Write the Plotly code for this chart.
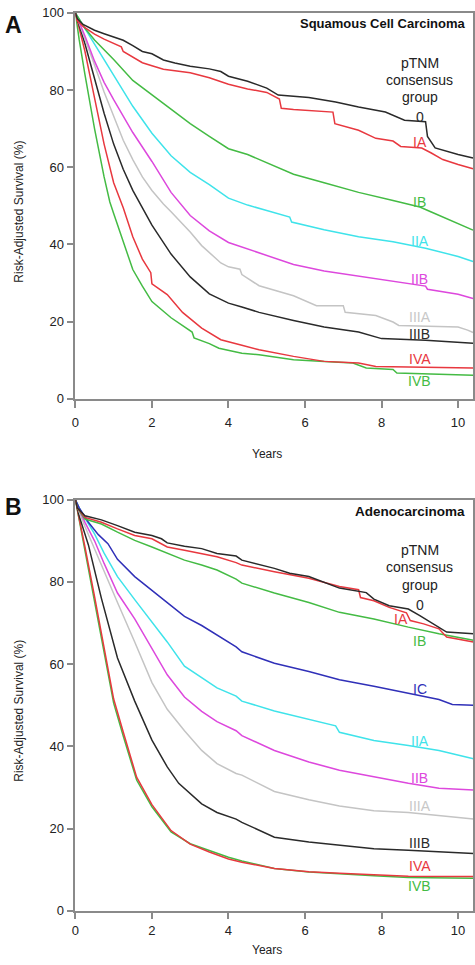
import plotly.graph_objects as go

# ---------------- Panel A: Squamous Cell Carcinoma ----------------
a_0_t = [0, 0.05, 0.2, 0.5, 0.75, 1.0, 1.25, 1.5, 1.75, 2.0, 2.3, 2.6, 3.0, 3.5, 3.8, 4.0, 4.5, 5.0, 5.3, 6.1, 6.8, 7.4, 8.1, 8.6, 9.15, 9.2, 9.4, 10.0, 10.39]
a_0_s = [100, 98.5, 97, 95.5, 94.6, 93.8, 92.9, 91.5, 90, 89.4, 87.8, 87, 86.2, 85.5, 84.8, 83.6, 82.3, 80.5, 78.7, 78.1, 76.9, 75.6, 74.3, 72.2, 71.8, 68, 65, 63.3, 62.4]

a_ia_t = [0, 0.05, 0.2, 0.5, 0.75, 1.0, 1.2, 1.25, 1.5, 1.75, 2.0, 2.3, 2.6, 3.0, 3.5, 4.0, 4.5, 5.0, 5.33, 5.38, 5.7, 6.73, 6.78, 7.4, 7.85, 8.3, 8.5, 9.05, 9.3, 9.6, 10.0, 10.39]
a_ia_s = [100, 98, 96.5, 94.5, 93.2, 92, 91.2, 90, 88.6, 87.1, 86.3, 85.4, 85, 84.5, 83.2, 81.5, 80.3, 79.4, 77.7, 75.3, 75, 74.3, 71.3, 69.6, 67.5, 66.8, 65.4, 65, 63.7, 62, 60.7, 59.6]

a_ib_t = [0, 0.25, 0.5, 1.0, 1.5, 2.0, 2.5, 3.0, 3.5, 4.0, 4.5, 5.0, 5.7, 6.5, 7.4, 8.3, 9.0, 9.3, 10.0, 10.39]
a_ib_s = [100, 96, 93, 87.9, 82.5, 78.8, 74.9, 71.3, 68, 64.8, 63.3, 61.2, 58.2, 56, 53.5, 51.4, 49.7, 48.4, 45.4, 43.7]

a_iia_t = [0, 0.25, 0.5, 1.0, 1.5, 2.0, 2.5, 3.0, 3.5, 4.0, 4.5, 5.0, 5.6, 5.65, 6.5, 7.4, 8.3, 9.15, 10.0, 10.39]
a_iia_s = [100, 96, 92.1, 84, 75.8, 68.8, 63, 58.7, 55.5, 52, 50.2, 48.8, 47.1, 45.8, 43.8, 42, 40.7, 39, 36.9, 35.6]

a_iib_t = [0, 0.25, 0.5, 0.75, 1.0, 1.5, 2.0, 2.5, 3.0, 3.5, 4.0, 4.5, 5.0, 5.7, 6.5, 7.4, 8.3, 9.15, 9.2, 10.0, 10.39]
a_iib_s = [100, 94, 87.5, 82, 77.5, 69, 61.5, 53.5, 47.5, 43.5, 40.5, 38.8, 37.2, 34.8, 33.1, 31.8, 30.5, 29.2, 28.4, 27.1, 26]

a_iiia_t = [0, 0.25, 0.5, 0.75, 1.0, 1.25, 1.5, 1.75, 2.0, 2.3, 2.5, 2.8, 3.0, 3.3, 3.5, 3.8, 4.0, 4.3, 4.35, 4.8, 5.7, 6.3, 7.0, 7.05, 7.85, 8.3, 8.45, 10.0, 10.25, 10.39]
a_iiia_s = [100, 93.5, 86.5, 79.5, 73, 67, 62, 57.5, 54, 50.5, 48.5, 45.4, 43.2, 39.7, 37.8, 35.2, 34.2, 33.6, 32.2, 29.3, 26.7, 24.1, 24.1, 22.4, 21.6, 19.9, 19, 18.6, 17.8, 17.2]

a_iiib_t = [0, 0.25, 0.5, 0.75, 1.0, 1.25, 1.5, 1.75, 2.0, 2.5, 3.0, 3.5, 4.0, 4.35, 4.8, 5.7, 6.5, 7.4, 8.0, 9.15, 10.39]
a_iiib_s = [100, 92, 83, 74, 66, 59.5, 54, 49.3, 45, 37.5, 31.6, 27.2, 24.8, 23.8, 22.4, 20.3, 18.6, 17.3, 15.6, 15.2, 14.4]

a_iva_t = [0, 0.1, 0.25, 0.5, 0.75, 1.0, 1.25, 1.5, 1.75, 1.97, 2.0, 2.4, 2.8, 3.3, 3.8, 4.35, 4.8, 5.7, 6.5, 7.4, 7.85, 10.39]
a_iva_s = [100, 96, 90, 78, 66, 56, 49.5, 42, 36.2, 32.7, 29.8, 27, 22.4, 18.3, 15.3, 13.9, 12.7, 11, 9.7, 9.3, 8.4, 8]

a_ivb_t = [0, 0.1, 0.25, 0.5, 0.75, 0.9, 1.0, 1.2, 1.5, 1.75, 2.0, 2.5, 3.05, 3.1, 3.5, 3.75, 4.35, 4.8, 5.7, 6.5, 7.25, 7.6, 8.3, 8.4, 10.39]
a_ivb_s = [100, 93, 84, 70, 57.5, 51, 48, 42, 33.5, 29.2, 25.2, 21, 17.3, 15.8, 14.3, 13.1, 11.8, 11.4, 10.1, 9.7, 9.3, 8, 7.6, 6.7, 6.1]

# ---------------- Panel B: Adenocarcinoma ----------------
b_0_t = [0, 0.05, 0.25, 0.68, 1.1, 1.55, 2.0, 2.25, 2.4, 2.85, 3.3, 3.7, 4.2, 4.35, 5.2, 5.6, 6.1, 6.9, 7.6, 7.8, 8.2, 8.7, 9.0, 9.35, 9.7, 10.4]
b_0_s = [100, 98, 96.1, 95.1, 93.7, 92.1, 91.3, 90.5, 89.5, 88.7, 88.1, 86.9, 86.3, 85.3, 83.3, 82.1, 81.3, 78.5, 77.4, 75.8, 74.2, 73.4, 71.8, 69.8, 67.8, 67.4]

b_ia_t = [0, 0.05, 0.25, 0.68, 1.1, 1.55, 2.0, 2.4, 2.85, 3.3, 3.7, 4.2, 4.35, 5.2, 6.1, 6.9, 7.4, 7.45, 7.8, 8.2, 8.65, 8.75, 9.1, 9.5, 9.7, 10.4]
b_ia_s = [100, 98, 95.7, 94.5, 92.9, 91.3, 90.5, 88.5, 87.7, 86.9, 86.1, 84.7, 84.1, 82.5, 80.9, 78.9, 78.1, 76.2, 75.4, 73.8, 72.5, 70.6, 69.8, 68.6, 66.6, 65.4]

b_ib_t = [0, 0.05, 0.25, 0.68, 1.1, 1.55, 2.0, 2.4, 2.85, 3.3, 3.7, 4.2, 4.35, 5.2, 6.1, 6.9, 7.8, 8.7, 9.5, 10.4]
b_ib_s = [100, 98, 95.3, 94.1, 92.1, 90.1, 88.5, 86.9, 85.3, 84.1, 82.9, 80.7, 79.7, 77.3, 75, 72.6, 71, 69, 67.4, 65.8]

b_ic_t = [0, 0.1, 0.34, 0.6, 0.85, 1.1, 1.55, 2.0, 2.4, 2.85, 3.3, 3.7, 4.2, 4.35, 5.2, 6.1, 6.9, 7.8, 8.7, 9.5, 9.85, 10.4]
b_ic_s = [100, 98, 94.5, 91.5, 89.3, 85.5, 81.3, 78, 74.9, 71.6, 69.4, 67, 64.2, 63, 60.2, 58.2, 56.2, 54.6, 53, 51.4, 50.2, 50]

b_iia_t = [0, 0.1, 0.25, 0.5, 0.75, 1.1, 1.55, 2.0, 2.4, 2.85, 3.3, 3.7, 4.2, 4.35, 5.2, 6.1, 6.8, 6.9, 7.8, 8.7, 9.5, 10.4]
b_iia_s = [100, 98, 95.5, 91.7, 87, 81.3, 75.7, 70.2, 65.4, 59.5, 56.6, 54.2, 52.2, 51, 48.6, 46.6, 45, 43.4, 41.4, 40.2, 39, 37]

b_iib_t = [0, 0.1, 0.25, 0.5, 0.75, 1.1, 1.55, 2.0, 2.4, 2.85, 3.3, 3.7, 4.2, 4.35, 5.2, 6.1, 6.9, 7.8, 8.7, 9.5, 10.4]
b_iib_s = [100, 97.5, 94.5, 90, 84.5, 77.3, 71, 63.8, 57.4, 52, 48.5, 46, 43.8, 42.6, 39, 36.2, 34.2, 32.6, 31, 29.8, 29.4]

b_iiia_t = [0, 0.1, 0.25, 0.5, 0.68, 1.1, 1.55, 2.0, 2.4, 2.85, 3.3, 3.7, 4.2, 4.35, 5.2, 6.1, 6.9, 7.8, 8.7, 9.5, 10.4]
b_iiia_s = [100, 97, 93.5, 88, 84.5, 75, 65.4, 55.5, 49, 43.8, 39, 35.8, 33.4, 33, 29, 27, 25.5, 24.3, 23.9, 23.1, 22.3]

b_iiib_t = [0, 0.1, 0.34, 0.68, 1.1, 1.55, 2.0, 2.4, 2.7, 3.3, 3.7, 4.2, 4.35, 5.2, 6.1, 6.9, 7.8, 8.7, 10.4]
b_iiib_s = [100, 96, 89, 76, 61.5, 51, 41.5, 35, 31, 26, 23.9, 22.3, 21.5, 17.9, 16.7, 15.9, 15.1, 14.7, 13.9]

b_iva_t = [0, 0.1, 0.25, 0.5, 0.75, 1.0, 1.25, 1.6, 2.0, 2.5, 3.0, 3.5, 4.0, 4.35, 5.2, 6.1, 6.9, 7.8, 8.7, 10.4]
b_iva_s = [100, 95.5, 88.5, 76.5, 63.5, 51.5, 43.5, 32.5, 25.8, 19.5, 16.2, 14.3, 12.6, 11.8, 10.3, 9.5, 9.1, 8.7, 8.4, 8.3]

b_ivb_t = [0, 0.1, 0.25, 0.5, 0.75, 1.0, 1.25, 1.6, 2.0, 2.5, 3.0, 3.5, 4.0, 4.35, 5.2, 6.1, 6.9, 7.8, 8.7, 10.4]
b_ivb_s = [100, 95, 87.5, 75.5, 62.5, 50.5, 42.5, 31.8, 25.3, 19.2, 16.3, 14.6, 13, 12.1, 10.3, 9.4, 8.9, 8.5, 8.1, 7.9]

# group names and label positions (years, survival %)
groups_a = ["0", "IA", "IB", "IIA", "IIB", "IIIA", "IIIB", "IVA", "IVB"]
label_a_y = [73, 66.6, 51, 41, 31.1, 21.2, 16.8, 10.2, 4.6]
groups_b = ["0", "IA", "IB", "IC", "IIA", "IIB", "IIIA", "IIIB", "IVA", "IVB"]
label_b_y = [74.3, 70.9, 65.6, 53.9, 41.4, 32.3, 25.4, 16.5, 10.8, 6.0]
label_b_x = [9.0, 8.5, 9.0, 9.0, 9.0, 9.0, 9.0, 9.0, 9.0, 9.0]

x_ticks = [0, 2, 4, 6, 8, 10]
y_ticks = [0, 20, 40, 60, 80, 100]

COL = {
    "0": "#2a2a2a", "IA": "#e8383f", "IB": "#44bb44", "IC": "#3030b8",
    "IIA": "#3fe3ea", "IIB": "#dd48dd", "IIIA": "#c4c4c4", "IIIB": "#2a2a2a",
    "IVA": "#e8383f", "IVB": "#44bb44",
}

series_a = [(a_0_t, a_0_s), (a_ia_t, a_ia_s), (a_ib_t, a_ib_s), (a_iia_t, a_iia_s),
            (a_iib_t, a_iib_s), (a_iiia_t, a_iiia_s), (a_iiib_t, a_iiib_s),
            (a_iva_t, a_iva_s), (a_ivb_t, a_ivb_s)]
series_b = [(b_0_t, b_0_s), (b_ia_t, b_ia_s), (b_ib_t, b_ib_s), (b_ic_t, b_ic_s),
            (b_iia_t, b_iia_s), (b_iib_t, b_iib_s), (b_iiia_t, b_iiia_s),
            (b_iiib_t, b_iiib_s), (b_iva_t, b_iva_s), (b_ivb_t, b_ivb_s)]

fig = go.Figure()
for g, (t, s) in reversed(list(zip(groups_a, series_a))):
    fig.add_trace(go.Scatter(x=t, y=s, mode="lines", name=g, showlegend=False,
                             line=dict(color=COL[g], width=1.5), xaxis="x", yaxis="y"))
for g, (t, s) in reversed(list(zip(groups_b, series_b))):
    fig.add_trace(go.Scatter(x=t, y=s, mode="lines", name=g, showlegend=False,
                             line=dict(color=COL[g], width=1.5), xaxis="x2", yaxis="y2"))

FONT = "Arial, Liberation Sans, sans-serif"
AX = "#8a8a8a"
W, H = 475, 965


def px_y(p):
    return 1 - p / H


axis_common = dict(showline=True, linecolor=AX, linewidth=1.5, mirror=True,
                   ticks="outside", ticklen=7, tickcolor=AX, tickwidth=1.5,
                   showgrid=False, zeroline=False,
                   tickfont=dict(family=FONT, size=13, color="#222"))

xdom = [72 / W, 473 / W]
fig.update_layout(
    width=W, height=H, margin=dict(l=0, r=0, t=0, b=0), autosize=False,
    paper_bgcolor="white", plot_bgcolor="white", showlegend=False,
    xaxis=dict(domain=xdom, range=[0, 10.39], tickvals=x_ticks, anchor="y",
               ticklabelstandoff=4, **axis_common),
    yaxis=dict(domain=[px_y(398), px_y(6)], range=[0, 100], tickvals=y_ticks, anchor="x", **axis_common),
    xaxis2=dict(domain=xdom, range=[0, 10.39], tickvals=x_ticks, anchor="y2", **axis_common),
    yaxis2=dict(domain=[px_y(918), px_y(500.5)], range=[0, 100], tickvals=y_ticks, anchor="x2", **axis_common),
)

ann = []
for g, y in zip(groups_a, label_a_y):
    ann.append(dict(x=9.0, y=y, xref="x", yref="y", text=g, showarrow=False,
                    font=dict(family=FONT, size=14, color=COL[g] if g != "IIIA" else "#c8c8c8")))
for g, y, x in zip(groups_b, label_b_y, label_b_x):
    ann.append(dict(x=x, y=y, xref="x2", yref="y2", text=g, showarrow=False,
                    font=dict(family=FONT, size=14, color=COL[g] if g != "IIIA" else "#c8c8c8")))
for yv, txt in zip([87.0, 82.7, 78.1], ["pTNM", "consensus", "group"]):
    ann.append(dict(x=9.0, y=yv, xref="x", yref="y", text=txt, showarrow=False,
                    font=dict(family=FONT, size=14, color="#222")))
for yv, txt in zip([87.7, 83.6, 79.3], ["pTNM", "consensus", "group"]):
    ann.append(dict(x=9.0, y=yv, xref="x2", yref="y2", text=txt, showarrow=False,
                    font=dict(family=FONT, size=14, color="#222")))
ann.append(dict(x=467 / W, y=px_y(17), xref="paper", yref="paper", xanchor="right", yanchor="middle",
                text="<b>Squamous Cell Carcinoma</b>", showarrow=False,
                font=dict(family=FONT, size=13, color="#111")))
ann.append(dict(x=467 / W, y=px_y(512), xref="paper", yref="paper", xanchor="right", yanchor="middle",
                text="<b>Adenocarcinoma</b>", showarrow=False,
                font=dict(family=FONT, size=13.5, color="#111")))
ann.append(dict(x=10 / W, y=px_y(18), xref="paper", yref="paper", xanchor="center", yanchor="middle",
                text="<b>A</b>", showarrow=False, font=dict(family=FONT, size=23, color="#111")))
ann.append(dict(x=10 / W, y=px_y(508), xref="paper", yref="paper", xanchor="center", yanchor="middle",
                text="<b>B</b>", showarrow=False, font=dict(family=FONT, size=23, color="#111")))
ann.append(dict(x=15 / W, y=px_y(208), xref="paper", yref="paper", xanchor="center", yanchor="middle",
                text="Risk-Adjusted Survival (%)", textangle=-90, showarrow=False,
                font=dict(family=FONT, size=12, color="#222")))
ann.append(dict(x=15 / W, y=px_y(715), xref="paper", yref="paper", xanchor="center", yanchor="middle",
                text="Risk-Adjusted Survival (%)", textangle=-90, showarrow=False,
                font=dict(family=FONT, size=12, color="#222")))
ann.append(dict(x=265 / W, y=px_y(454), xref="paper", yref="paper", xanchor="center", yanchor="middle",
                text="Years", showarrow=False, font=dict(family=FONT, size=12, color="#222")))
ann.append(dict(x=265 / W, y=px_y(958), xref="paper", yref="paper", xanchor="center", yanchor="middle",
                text="Years", showarrow=False, font=dict(family=FONT, size=12, color="#222")))
fig.update_layout(annotations=ann)

fig.write_html(
    "out.html",
    config={"displayModeBar": False},
    post_script="document.body.style.margin='0px';document.documentElement.style.overflow='hidden';document.body.style.overflow='hidden';",
)
